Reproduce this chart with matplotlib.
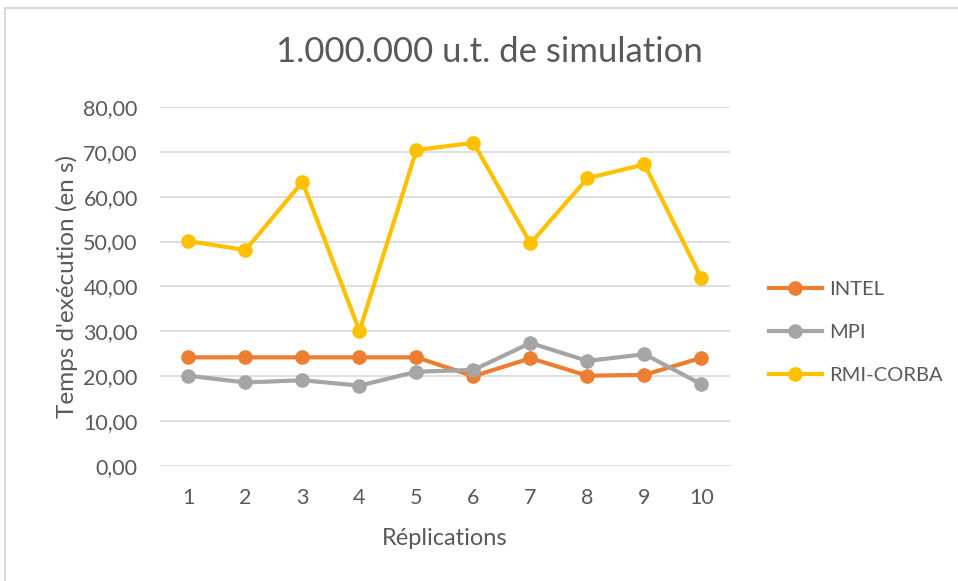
import matplotlib.pyplot as plt
from matplotlib.lines import Line2D
from matplotlib.ticker import FuncFormatter

plt.rcParams['font.family'] = ['Lato', 'DejaVu Sans']

replications = [1, 2, 3, 4, 5, 6, 7, 8, 9, 10]
intel = [24.2, 24.2, 24.2, 24.2, 24.2, 20.0, 24.0, 20.1, 20.3, 24.1]
mpi = [20.1, 18.6, 19.1, 17.9, 21.0, 21.4, 27.4, 23.4, 24.9, 18.2]
rmi_corba = [50.1, 48.1, 63.3, 30.1, 70.4, 72.0, 49.6, 64.1, 67.2, 41.8]

series = [("INTEL", intel, "#ED7D31"),
          ("MPI", mpi, "#A5A5A5"),
          ("RMI-CORBA", rmi_corba, "#FFC000")]

text_col = "#595959"

fig = plt.figure(figsize=(9.58, 5.81), dpi=100)
ax = fig.add_axes([0.167, 0.198, 0.595, 0.618])

for name, vals, col in series:
    ax.plot(replications, vals, color=col, lw=3, marker='o', ms=9.5,
            label=name, solid_capstyle='round', zorder=3)

ax.set_xlim(0.5, 10.5)
ax.set_ylim(0, 80)
ax.set_xticks(replications)
ax.set_yticks(range(0, 81, 10))
ax.yaxis.set_major_formatter(FuncFormatter(lambda v, p: f"{v:.2f}".replace('.', ',')))
ax.grid(axis='y', color='#D9D9D9', lw=1.2, zorder=0)
ax.set_axisbelow(True)
for s in ax.spines.values():
    s.set_visible(False)
ax.tick_params(length=0, labelsize=15.5, labelcolor=text_col)
ax.tick_params(axis='x', pad=16)
ax.tick_params(axis='y', pad=16)

ax.set_xlabel("Réplications", fontsize=17, color=text_col, labelpad=14)
ax.set_ylabel("Temps d'exécution (en s)", fontsize=17.5, color=text_col, labelpad=4)
fig.text(0.511, 0.91, "1.000.000 u.t. de simulation", fontsize=25,
         color=text_col, ha='center', va='center')

handles = [Line2D([], [], color=c, lw=3, marker='o', ms=9.5) for _, _, c in series]
fig.legend(handles, [n for n, _, _ in series], loc='center left',
           bbox_to_anchor=(0.803, 0.428), frameon=False, fontsize=14.5,
           labelcolor=text_col, handlelength=2.6, handletextpad=0.35,
           labelspacing=1.3, borderpad=0, borderaxespad=0)

# outer frame (top and left edges only)
fig.add_artist(Line2D([0.005, 1.0], [0.986, 0.986], color='#D9D9D9', lw=1.5))
fig.add_artist(Line2D([0.005, 0.005], [0.0, 0.986], color='#D9D9D9', lw=1.5))

fig.savefig("out.png", dpi=100, facecolor='white')
